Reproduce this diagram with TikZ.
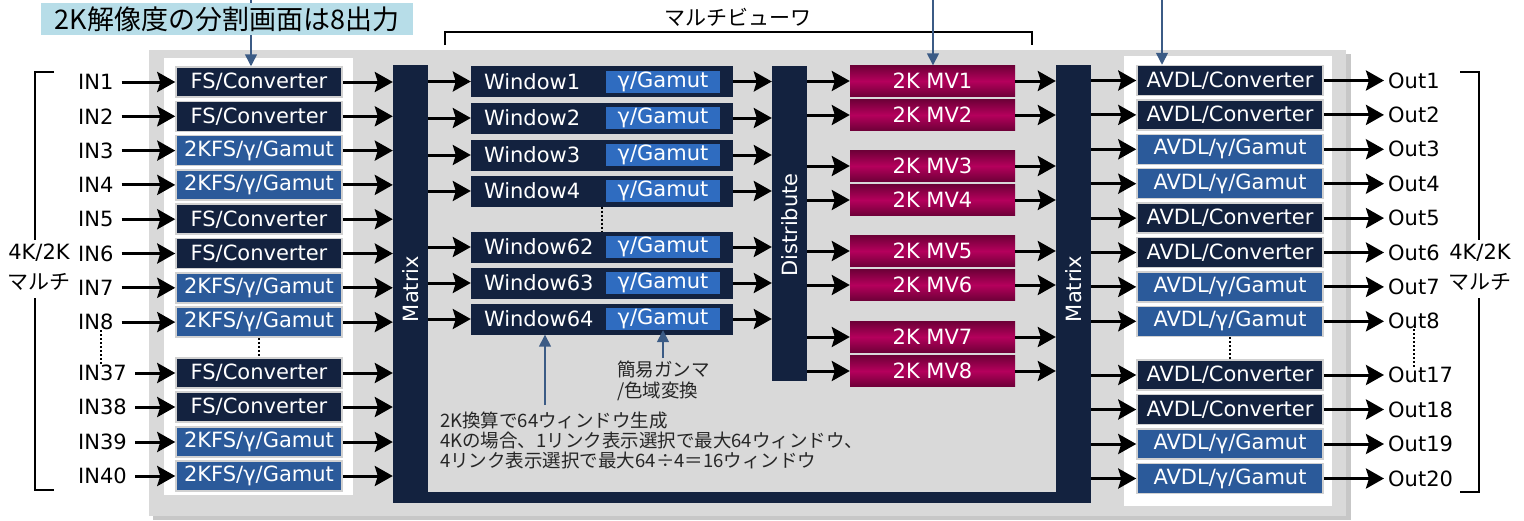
\documentclass[tikz,border=0pt]{standalone}
\usepackage{fontspec}
\setmainfont{DejaVu Sans}
\newfontfamily\cjk{Noto Sans CJK JP}
\usetikzlibrary{arrows.meta}
\definecolor{navy}{HTML}{13223F}
\definecolor{boxblue}{HTML}{2B5A9A}
\definecolor{gamblue}{HTML}{2F6CC0}
\definecolor{mvdark}{HTML}{6E0038}
\definecolor{mvbright}{HTML}{B5005C}
\definecolor{notebg}{HTML}{B7DDE8}
\definecolor{steel}{HTML}{3B5B85}
\definecolor{panelgray}{HTML}{D9D9D9}
\newcommand\fsconv{FS/Converter}
\newcommand\fsgam{2KFS/γ/Gamut}
\newcommand\avconv{AVDL/Converter}
\newcommand\avgam{AVDL/γ/Gamut}
\tikzset{
	arr/.style={-{Stealth[length=18pt,width=20pt,inset=3pt]},line width=3pt},
	notearr/.style={-{Triangle[length=12pt,width=12pt]},line width=1.5pt,draw=steel},
	cbox/.style={draw=black!18,line width=1.5pt,fill=navy,text=white,minimum height=30pt,inner sep=0pt},
	gbox/.style={cbox,fill=boxblue},
	winbox/.style={fill=navy,text=white,minimum height=31pt,text width=236pt,inner xsep=13pt,inner ysep=0pt,align=left},
	gambox/.style={fill=gamblue,text=white,minimum width=114pt,minimum height=22pt,inner sep=0pt},
	mvbox/.style={top color=mvdark,bottom color=mvdark,middle color=mvbright,text=white,minimum width=165pt,minimum height=31pt,inner sep=0pt},
	bar/.style={fill=navy,minimum width=35pt,inner sep=0pt},
	lbl/.style={anchor=west,inner sep=0pt},
	dots/.style={line width=1.5pt,dash pattern=on 2pt off 2pt}
}
\begin{document}
\begin{tikzpicture}[x=1pt,y=-1pt,font=\fontsize{21}{25}\selectfont]
	\useasboundingbox (0,0) rectangle (1524,520);
	\fill[black!22] (153,54) rectangle (1351,520);
	\fill[panelgray] (149,50) rectangle (1346,516);
	\fill[white] (164,58) rectangle (353,495);
	\fill[white] (1124,56) rectangle (1332,506);

	\node[bar,minimum height=438pt] (mx1) at (410.5,284) {};
	\node[bar,minimum height=438pt] (mx2) at (1073.5,284) {};
	\fill[navy] (mx1.south west) rectangle ([yshift=11pt]mx2.south east);
	\node[rotate=90,text=white] (mx1t) at (410.5,289) {Matrix};
	\node[rotate=90,text=white] (mx2t) at (1073.5,289) {Matrix};
	\node[bar,minimum height=315pt] (dist) at (789.5,223.5) {};
	\node[rotate=90,text=white] (distt) at (789.5,225) {Distribute};

	\foreach \n/\y/\s/\t in {1/82/cbox/\fsconv,2/116.3/cbox/\fsconv,3/150.6/gbox/\fsgam,4/184.9/gbox/\fsgam,
		5/219.2/cbox/\fsconv,6/253.5/cbox/\fsconv,7/287.8/gbox/\fsgam,8/322.1/gbox/\fsgam,
		37/373/cbox/\fsconv,38/407/cbox/\fsconv,39/442/gbox/\fsgam,40/476/gbox/\fsgam}{
		\node[\s,minimum width=166pt] (l\n) at (259,\y) {\t};
		\node[lbl] (in\n) at (78,\y) {IN\n};
		\draw[arr] ([xshift=8pt]in\n.east) -- (l\n.west);
		\draw[arr] (l\n.east) -- (l\n.east -| mx1.west);
	}

	\foreach \n/\y in {1/81.5,2/118,3/155,4/191,62/247,63/283,64/319}{
		\node[winbox] (w\n) at (602,\y) {Window\n};
		\node[gambox,anchor=east] (g\n) at ([xshift=-13pt]w\n.east) {γ/Gamut};
		\draw[arr] (w\n.west -| mx1.east) -- (w\n.west);
		\draw[arr] (w\n.east) -- (w\n.east -| dist.west);
	}

	\foreach \n/\y in {1/81,2/115,3/166,4/200,5/251,6/285,7/337,8/371}{
		\node[mvbox] (mv\n) at (932.5,\y) {2K MV\n};
		\draw[arr] (mv\n.west -| dist.east) -- (mv\n.west);
		\draw[arr] (mv\n.east) -- (mv\n.east -| mx2.west);
	}

	\foreach \n/\y/\s/\t in {1/80.5/cbox/\avconv,2/114.9/cbox/\avconv,3/149.3/gbox/\avgam,4/183.7/gbox/\avgam,
		5/218.1/cbox/\avconv,6/252.5/cbox/\avconv,7/286.9/gbox/\avgam,8/321.3/gbox/\avgam,
		17/375/cbox/\avconv,18/409.5/cbox/\avconv,19/444/gbox/\avgam,20/478.5/gbox/\avgam}{
		\node[\s,minimum width=186pt] (r\n) at (1230,\y) {\t};
		\node[lbl] (o\n) at (1388,\y) {Out\n};
		\draw[arr] (r\n.west -| mx2.east) -- (r\n.west);
		\draw[arr] (r\n.east) -- ([xshift=-4pt]o\n.west);
	}

	\draw[dots] ([xshift=5pt]in8.south) -- ([xshift=5pt]in8.south |- in37.north);
	\draw[dots] (l8.south) -- (l37.north);
	\draw[dots] (w4.south) -- (w62.north);
	\draw[dots] (r8.south) -- (r17.north);
	\draw[dots] (o8.south) -- (o8.south |- o17.north);

	\draw[line width=1.5pt] (54,72) -- (35,72) -- (35,240);
	\draw[line width=1.5pt] (35,298) -- (35,490) -- (54,490);
	\node[align=center,inner sep=0pt,font=\fontsize{21}{30}\selectfont] (lmulti) at (39,267) {4K/2K\\\cjk マルチ};
	\draw[line width=1.5pt] (1460,72) -- (1479,72) -- (1479,240);
	\draw[line width=1.5pt] (1479,298) -- (1479,492) -- (1460,492);
	\node[align=center,inner sep=0pt,font=\fontsize{21}{30}\selectfont] (rmulti) at (1480,267) {4K/2K\\\cjk マルチ};

	\draw[line width=1.5pt] (445,45) -- (445,32) -- (1032,32) -- (1032,45);
	\node[font=\cjk\fontsize{21}{24}\selectfont] (mvtitle) at (738,17) {マルチビューワ};

	\coordinate (t1) at (251,0);
	\coordinate (t2) at (933,0);
	\coordinate (t3) at (1162,0);
	\draw[notearr] (t1) -- (t1 |- l1.north);
	\draw[notearr] (t2) -- (t2 |- mv1.north);
	\draw[notearr] (t3) -- (t3 |- r1.north);
	\node[fill=notebg,minimum width=372pt,minimum height=32pt,inner sep=0pt,font=\cjk\fontsize{27}{30}\selectfont] (note8) at (227,19) {2K解像度の分割画面は8出力};

	\coordinate (b1) at (545,405);
	\coordinate (b2) at (663,358);
	\draw[notearr] (b1) -- (b1 |- w64.south);
	\draw[notearr] (b2) -- (b2 |- g64.south);
	\node[anchor=north west,align=left,inner sep=0pt,text=black!85,font=\cjk\fontsize{18.5}{21}\selectfont] (gnote) at (617,361) {簡易ガンマ\\/色域変換};
	\node[anchor=north west,align=left,inner sep=0pt,text=black!85,font=\cjk\fontsize{18.5}{20}\selectfont] (wnote) at (440,412) {2K換算で64ウィンドウ生成\\4Kの場合、1リンク表示選択で最大64ウィンドウ、\\4リンク表示選択で最大64÷4＝16ウィンドウ};
\end{tikzpicture}
\end{document}
